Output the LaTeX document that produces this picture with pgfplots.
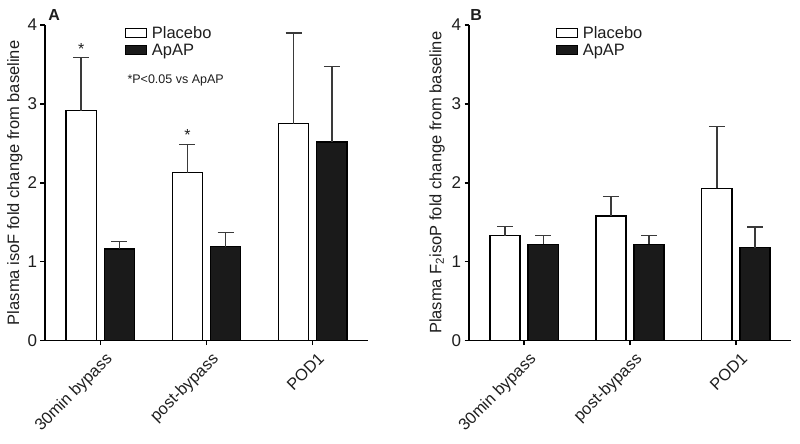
\documentclass[border=0pt]{standalone}
\usepackage{fontspec}
\setmainfont{Liberation Sans}
\usepackage{pgfplots}
\pgfplotsset{compat=1.18}
\definecolor{errc}{HTML}{3A3A3A}
\definecolor{barblk}{HTML}{1A1A1A}
\definecolor{txt}{HTML}{1E1E1E}
\pgfplotsset{
  panel/.style={
    scale only axis, height=315.7pt,
    xmin=-0.52, xmax=2.52, ymin=0, ymax=4,
    axis lines*=left,
    axis line style={line width=1.6pt, black},
    ytick={0,1,2,3,4}, xtick={0,1,2},
    xticklabels={30min bypass, post-bypass, POD1},
    tick align=outside, major tick length=4.5pt,
    tick style={line width=1.4pt, black},
    xticklabel style={rotate=45, anchor=north east, xshift=2pt, yshift=-4pt, font=\fontsize{16.4}{19}\selectfont, text=txt},
    yticklabel style={font=\fontsize{17}{19}\selectfont, text=txt},
    /pgf/number format/assume math mode=true,
    ybar, bar width=0.285,
    legend style={draw=none, fill=none, anchor=north west, inner sep=0pt,
      font=\fontsize{16.5}{19}\selectfont, row sep=0.5pt,
      nodes={inner sep=1.5pt, text=txt},
      /tikz/every odd column/.append style={column sep=3pt}},
    legend image code/.code={\draw[#1, line width=1.1pt] (0pt,-4.5pt) rectangle (21pt,5pt);},
    legend cell align=left,
    ylabel style={font=\fontsize{16.5}{19}\selectfont, anchor=center, text=txt},
    clip=false,
  },
  pla/.style={draw=black, fill=white, line width=1.4pt, bar shift=0pt,
    error bars/.cd, y dir=plus, y explicit, error mark=-,
    error mark options={rotate=90, mark size=8pt, line width=1.3pt, draw=errc},
    error bar style={line width=1.3pt, draw=errc}},
  apa/.style={draw=black, fill=barblk, line width=1.4pt, bar shift=0pt,
    error bars/.cd, y dir=plus, y explicit, error mark=-,
    error mark options={rotate=90, mark size=8pt, line width=1.3pt, draw=errc},
    error bar style={line width=1.3pt, draw=errc}},
}
\begin{document}
\begin{tikzpicture}[x=1pt,y=1pt]
\begin{axis}[panel, width=323pt, at={(45pt,103.3pt)}, anchor=south west,
  ylabel={Plasma isoF fold change from baseline},
  ylabel style={at={(axis description cs:-0.093,0.5)}},
  legend style={at={(axis description cs:0.248,1.0)}}]
\addplot[pla] coordinates {(-0.18,2.915) +- (0,0.675) (0.82,2.13) +- (0,0.36) (1.82,2.75) +- (0,1.15)};
\addlegendentry{Placebo}
\addplot[apa] coordinates {(0.18,1.16) +- (0,0.10) (1.18,1.19) +- (0,0.18) (2.18,2.52) +- (0,0.95)};
\addlegendentry{ApAP}
\node[font=\fontsize{16}{19}\selectfont, text=txt] at (axis cs:-0.18,3.70) {*};
\node[font=\fontsize{16}{19}\selectfont, text=txt] at (axis cs:0.82,2.60) {*};
\node[anchor=west, inner sep=0pt, font=\fontsize{12.5}{15}\selectfont, text=txt] at (axis cs:0.255,3.30) {*P<0.05 vs ApAP};
\node[font=\bfseries\fontsize{16}{19}\selectfont, text=txt] at (axis description cs:0.028,1.032) {A};
\end{axis}
\begin{axis}[panel, width=322pt, at={(469pt,103.3pt)}, anchor=south west,
  ylabel={Plasma F\textsubscript{2}isoP fold change from baseline},
  ylabel style={at={(axis description cs:-0.099,0.5)}},
  legend style={at={(axis description cs:0.27,1.0)}}]
\addplot[pla] coordinates {(-0.18,1.33) +- (0,0.12) (0.82,1.58) +- (0,0.25) (1.82,1.93) +- (0,0.78)};
\addlegendentry{Placebo}
\addplot[apa] coordinates {(0.18,1.22) +- (0,0.11) (1.18,1.22) +- (0,0.11) (2.18,1.18) +- (0,0.26)};
\addlegendentry{ApAP}
\node[font=\bfseries\fontsize{16}{19}\selectfont, text=txt] at (axis description cs:0.022,1.032) {B};
\end{axis}
\pgfresetboundingbox
\useasboundingbox (0pt,0pt) rectangle (800pt,444pt);
\end{tikzpicture}
\end{document}
